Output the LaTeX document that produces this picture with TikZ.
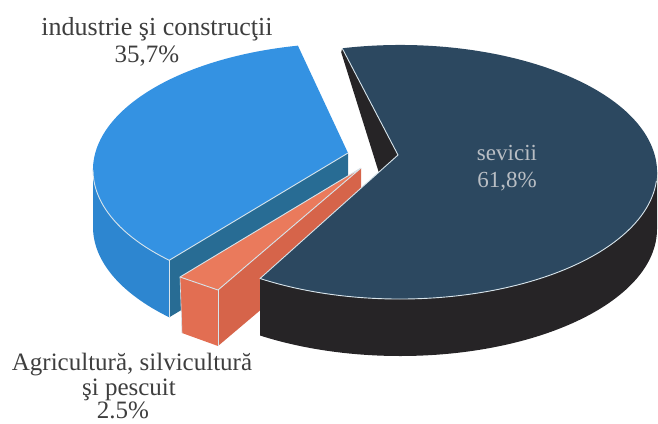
\documentclass[tikz,border=0pt]{standalone}
\usepackage{fontspec}
\setmainfont{Liberation Serif}
\usetikzlibrary{calc}
\definecolor{servtop}{RGB}{44,72,96}
\definecolor{servside}{RGB}{38,36,38}
\definecolor{bluetop}{RGB}{52,146,226}
\definecolor{blueside}{RGB}{45,134,208}
\definecolor{bluecut}{RGB}{40,108,148}
\definecolor{ortop}{RGB}{234,122,92}
\definecolor{orfront}{RGB}{226,110,82}
\definecolor{orcut}{RGB}{214,100,74}
\definecolor{edgec}{RGB}{215,228,235}
\definecolor{txt}{RGB}{62,62,62}
\definecolor{txtlight}{RGB}{185,190,196}
\begin{document}
\begin{tikzpicture}[x=1pt,y=1pt,
  edge/.style={draw=edgec,line width=0.9pt,line join=round},
  lbl/.style={text=txt,font=\fontsize{25}{29}\selectfont,inner sep=0pt,anchor=base},
  lbllight/.style={lbl,text=txtlight,font=\fontsize{23}{27}\selectfont},
  ell/.style={x radius=257,y radius=127}]
\useasboundingbox (0,0) rectangle (658,-423);
% ---------- blue slice (industrie) ----------
\coordinate (Bc) at (350,-170);
\coordinate (Ba) at (348,-153);
\path (Bc) ++(101.7:257 and 127) coordinate (Bb);
\path (Bc) ++(225.3:257 and 127) coordinate (Bf);
\path (Bc) ++(180:257 and 127) coordinate (Bl);
\fill[blueside] (Bl) arc[start angle=180,end angle=225.3,ell] -- ++(0,-57)
  arc[start angle=225.3,end angle=180,ell] -- cycle;
\fill[bluecut] (Bf) -- (Ba) -- ++(0,-57) -- ($(Bf)+(0,-57)$) -- cycle;
\fill[bluetop] (Ba) -- (Bb) arc[start angle=101.7,end angle=225.3,ell] -- cycle;
\draw[edge] (Bl) arc[start angle=180,end angle=225.3,ell] -- (Ba);
\draw[edge] (Bf) -- ++(0,-57);
% ---------- orange slice (agricultura) ----------
\coordinate (Oa) at (361,-168);
\coordinate (Ol) at (180,-277);
\coordinate (Or) at (218,-290);
\coordinate (Olb) at (182,-333);
\coordinate (Orb) at (218,-346);
\coordinate (Oab) at (361,-225);
\fill[orcut] (Or) -- (Oa) -- (Oab) -- (Orb) -- cycle;
\fill[orfront] (Ol) -- (Or) -- (Orb) -- (Olb) -- cycle;
\fill[ortop] (Oa) -- (Ol) -- (Or) -- cycle;
\draw[edge] (Oa) -- (Ol) -- (Or) -- (Oa);
\draw[edge] (Or) -- (Orb);
\draw[edge,line width=0.6pt] (Ol) -- (Olb);
% ---------- dark slice (servicii) ----------
\coordinate (Sc) at (400,-172);
\coordinate (Sa) at (398,-155);
\coordinate (Sn) at (379,-173);
\path (Sc) ++(103:257 and 127) coordinate (Sb);
\path (Sc) ++(-123:257 and 127) coordinate (Sf);
\fill[servside] (Sb) -- (Sa) -- (Sn) -- ($(Sb)+(-1,-4)$) -- cycle;
\fill[servside] (Sf) arc[start angle=-123,end angle=0,ell] -- ++(0,-57)
  arc[start angle=0,end angle=-123,ell] -- cycle;
\fill[servtop] (Sa) -- (Sb) arc[start angle=103,end angle=-123,ell] -- cycle;
\draw[edge] (Sb) -- (Sa) -- (Sf) arc[start angle=-123,end angle=-4,ell];
% ---------- labels ----------
\node[lbl,font=\fontsize{26}{30}\selectfont] (indt) at (157,-35) {industrie şi construcţii};
\node[lbl] (indp) at (147,-62) {35,7\%};
\node[lbllight] (sevt) at (507,-160) {sevicii};
\node[lbllight] (sevp) at (507,-187) {61,8\%};
\node[lbl] (agrt) at (132,-370) {Agricultură, silvicultură};
\node[lbl] (agrs) at (129,-395) {şi pescuit};
\node[lbl] (agrp) at (123,-418) {2.5\%};
\end{tikzpicture}
\end{document}
